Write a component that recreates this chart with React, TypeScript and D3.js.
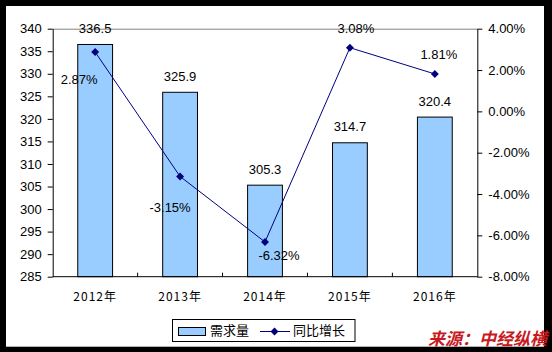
import React, { useEffect, useRef } from "react";
import * as d3 from "d3";

const years = ["2012年", "2013年", "2014年", "2015年", "2016年"];
const demand = [336.5, 325.9, 305.3, 314.7, 320.4];
const growth = [2.87, -3.15, -6.32, 3.08, 1.81];
const leftTicks = [285, 290, 295, 300, 305, 310, 315, 320, 325, 330, 335, 340];
const rightTicks = [-8, -6, -4, -2, 0, 2, 4];
const legendLabels = ["需求量", "同比增长"];
const sourceText = "来源：中经纵横";

// label nudges for the growth values (dx, dy from the point)
const growthLabelOffsets = [
  [-16, 29],
  [-10, 32],
  [14, 15],
  [6, -18],
  [4, -18],
];

export default function App() {
  const ref = useRef<SVGSVGElement | null>(null);

  useEffect(() => {
    const width = 552;
    const height = 352;
    const margin = { top: 28.7, right: 74.7, bottom: 75.3, left: 52.7 };
    const plotW = width - margin.left - margin.right;
    const plotH = height - margin.top - margin.bottom;
    const numFont = "'Liberation Sans', Arial, sans-serif";
    const cjkFont = "'Noto Sans CJK SC', sans-serif";

    const svg = d3.select(ref.current);
    svg.selectAll("*").remove();

    // frame
    svg.append("rect").attr("width", width).attr("height", height).attr("fill", "#000");
    svg.append("rect")
      .attr("x", 6).attr("y", 6)
      .attr("width", 538).attr("height", 340.7)
      .attr("fill", "#fff");

    const g = svg.append("g").attr("transform", `translate(${margin.left},${margin.top})`);

    const x = d3.scaleBand().domain(years).range([0, plotW]).padding(0);
    const yL = d3.scaleLinear().domain([285, 340]).range([plotH, 0]);
    const yR = d3.scaleLinear().domain([-8, 4]).range([plotH, 0]);
    const barW = x.bandwidth() * 0.41;
    const cx = (d: string) => (x(d) as number) + x.bandwidth() / 2;

    // top border line
    g.append("line")
      .attr("x1", 0).attr("x2", plotW)
      .attr("y1", 0.5).attr("y2", 0.5)
      .attr("stroke", "#808080").attr("stroke-width", 1);

    // bars
    g.selectAll("rect.bar")
      .data(demand)
      .enter()
      .append("rect")
      .attr("class", "bar")
      .attr("x", (d, i) => cx(years[i]) - barW / 2)
      .attr("y", (d) => yL(d))
      .attr("width", barW)
      .attr("height", (d) => plotH - yL(d))
      .attr("fill", "#99CCFF")
      .attr("stroke", "#000")
      .attr("stroke-width", 1);

    g.selectAll("text.barlabel")
      .data(demand)
      .enter()
      .append("text")
      .attr("x", (d, i) => cx(years[i]))
      .attr("y", (d) => yL(d) - 15)
      .attr("text-anchor", "middle")
      .attr("dominant-baseline", "middle")
      .style("font-family", numFont)
      .style("font-size", "13px")
      .attr("fill", "#000")
      .text((d) => d.toFixed(1));

    // left axis
    const leftAxis = g.append("g")
      .call(d3.axisLeft(yL).tickValues(leftTicks).tickSize(5).tickSizeOuter(0).tickPadding(6));
    leftAxis.select(".domain").attr("stroke", "#000");
    leftAxis.selectAll("text").style("font-family", numFont).style("font-size", "13px").attr("fill", "#000");

    // right axis
    const rightAxis = g.append("g")
      .attr("transform", `translate(${plotW},0)`)
      .call(d3.axisRight(yR).tickValues(rightTicks).tickSize(5).tickSizeOuter(0).tickPadding(6)
        .tickFormat((d) => `${(+d).toFixed(2)}%`));
    rightAxis.select(".domain").attr("stroke", "#000");
    rightAxis.selectAll("text").style("font-family", numFont).style("font-size", "13px").attr("fill", "#000");

    // bottom axis
    g.append("line")
      .attr("x1", 0).attr("x2", plotW)
      .attr("y1", plotH).attr("y2", plotH)
      .attr("stroke", "#000");
    g.selectAll("line.btick")
      .data(years.slice(1))
      .enter()
      .append("line")
      .attr("class", "btick")
      .attr("x1", (d) => x(d) as number)
      .attr("x2", (d) => x(d) as number)
      .attr("y1", plotH - 4)
      .attr("y2", plotH)
      .attr("stroke", "#000");
    g.selectAll("text.xlabel")
      .data(years)
      .enter()
      .append("text")
      .attr("x", (d) => cx(d))
      .attr("y", plotH + 21)
      .attr("text-anchor", "middle")
      .attr("dominant-baseline", "middle")
      .style("font-family", cjkFont)
      .style("font-size", "12px")
      .style("letter-spacing", "1px")
      .attr("fill", "#000")
      .text((d) => d);

    // growth line
    const line = d3.line<number>()
      .x((d, i) => cx(years[i]))
      .y((d) => yR(d));
    g.append("path")
      .datum(growth)
      .attr("d", line)
      .attr("fill", "none")
      .attr("stroke", "#000080")
      .attr("stroke-width", 1);

    const diamond = d3.symbol().type(d3.symbolDiamond2).size(40);
    g.selectAll("path.marker")
      .data(growth)
      .enter()
      .append("path")
      .attr("class", "marker")
      .attr("d", diamond)
      .attr("transform", (d, i) => `translate(${cx(years[i])},${yR(d)})`)
      .attr("fill", "#000080");

    g.selectAll("text.glabel")
      .data(growth)
      .enter()
      .append("text")
      .attr("x", (d, i) => cx(years[i]) + growthLabelOffsets[i][0])
      .attr("y", (d, i) => yR(d) + growthLabelOffsets[i][1])
      .attr("text-anchor", "middle")
      .attr("dominant-baseline", "middle")
      .style("font-family", numFont)
      .style("font-size", "13px")
      .attr("fill", "#000")
      .text((d) => `${d.toFixed(2)}%`);

    // legend
    const lg = svg.append("g");
    lg.append("rect")
      .attr("x", 172.5).attr("y", 319.5)
      .attr("width", 182.5).attr("height", 22)
      .attr("fill", "#fff").attr("stroke", "#000");
    lg.append("rect")
      .attr("x", 178.5).attr("y", 327.5)
      .attr("width", 27).attr("height", 8)
      .attr("fill", "#99CCFF").attr("stroke", "#000");
    lg.append("text")
      .attr("x", 210).attr("y", 331)
      .attr("dominant-baseline", "middle")
      .style("font-family", cjkFont)
      .style("font-size", "13px")
      .text(legendLabels[0]);
    lg.append("line")
      .attr("x1", 260).attr("x2", 290)
      .attr("y1", 331.5).attr("y2", 331.5)
      .attr("stroke", "#000080");
    lg.append("path")
      .attr("d", diamond)
      .attr("transform", "translate(274.5,331.5)")
      .attr("fill", "#000080");
    lg.append("text")
      .attr("x", 293).attr("y", 331)
      .attr("dominant-baseline", "middle")
      .style("font-family", cjkFont)
      .style("font-size", "13px")
      .text(legendLabels[1]);

    // source
    svg.append("text")
      .attr("x", 547).attr("y", 340)
      .attr("text-anchor", "end")
      .attr("dominant-baseline", "middle")
      .style("font-family", cjkFont)
      .style("font-size", "17px")
      .style("font-weight", "bold")
      .style("font-style", "italic")
      .attr("fill", "#C8191E")
      .text(sourceText);
  }, []);

  return (
    <svg
      ref={ref}
      width={552}
      height={352}
      style={{ position: "absolute", left: 0, top: 0, display: "block" }}
    />
  );
}
